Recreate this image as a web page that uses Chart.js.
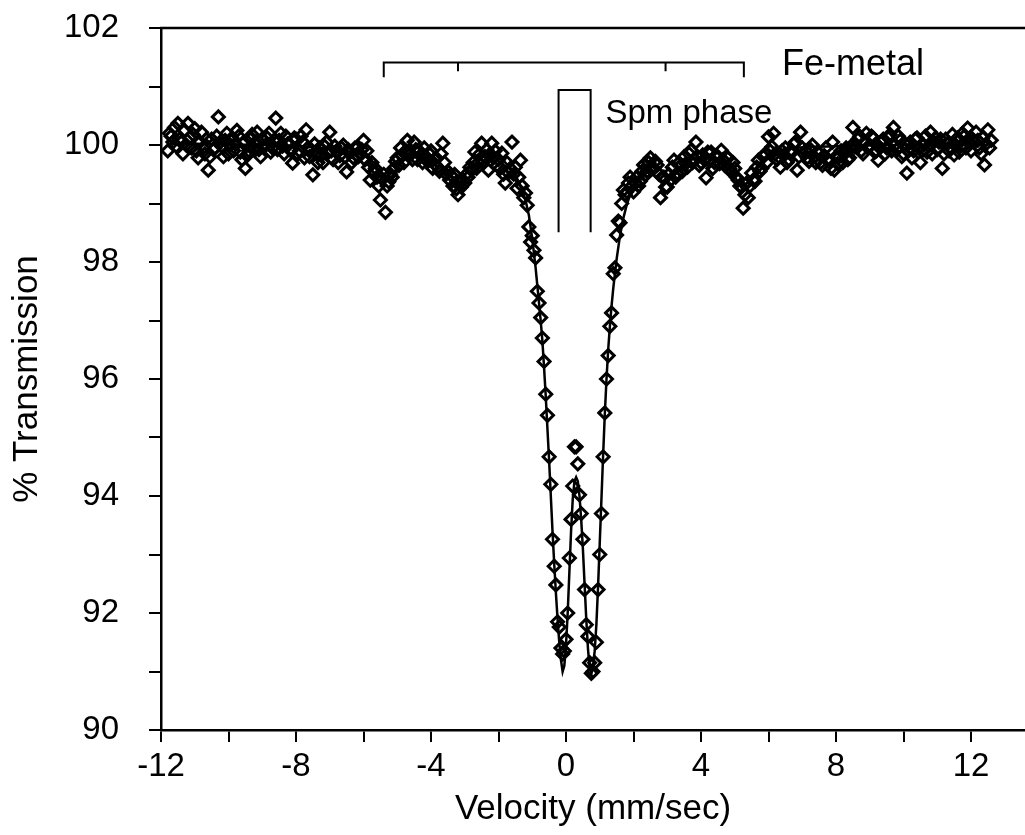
<!DOCTYPE html>
<html>
<head>
<meta charset="utf-8">
<script src="https://cdn.jsdelivr.net/npm/chart.js@4.4.1/dist/chart.umd.min.js"></script>
<style>
  html, body { margin: 0; padding: 0; background: #fff; }
  #wrap { width: 1025px; height: 835px; }
</style>
</head>
<body>
<div id="wrap"><canvas id="chart"></canvas></div>
<script>
// measured spectrum: outer left wing, central doublet, outer right wing
const leftVelocity = [
  -11.8, -11.75, -11.7, -11.65, -11.6, -11.55, -11.5, -11.45, -11.4, -11.35,
  -11.3, -11.25, -11.2, -11.15, -11.1, -11.05, -11.0, -10.95, -10.9, -10.85,
  -10.8, -10.75, -10.7, -10.65, -10.6, -10.55, -10.5, -10.45, -10.4, -10.35,
  -10.3, -10.25, -10.2, -10.15, -10.1, -10.05, -10.0, -9.95, -9.9, -9.85,
  -9.8, -9.75, -9.7, -9.65, -9.6, -9.55, -9.5, -9.45, -9.4, -9.35,
  -9.3, -9.25, -9.2, -9.15, -9.1, -9.05, -9.0, -8.95, -8.9, -8.85,
  -8.8, -8.75, -8.7, -8.65, -8.6, -8.55, -8.5, -8.45, -8.4, -8.35,
  -8.3, -8.25, -8.2, -8.15, -8.1, -8.05, -8.0, -7.95, -7.9, -7.85,
  -7.8, -7.75, -7.7, -7.65, -7.6, -7.55, -7.5, -7.45, -7.4, -7.35,
  -7.3, -7.25, -7.2, -7.15, -7.1, -7.05, -7.0, -6.95, -6.9, -6.85,
  -6.8, -6.75, -6.7, -6.65, -6.6, -6.55, -6.5, -6.45, -6.4, -6.35,
  -6.3, -6.25, -6.2, -6.15, -6.1, -6.05, -6.0, -5.95, -5.9, -5.85,
  -5.8, -5.75, -5.7, -5.65, -5.6, -5.55, -5.5, -5.45, -5.4, -5.35,
  -5.3, -5.25, -5.2, -5.15, -5.1, -5.05, -5.0, -4.95, -4.9, -4.85,
  -4.8, -4.75, -4.7, -4.65, -4.6, -4.55, -4.5, -4.45, -4.4, -4.35,
  -4.3, -4.25, -4.2, -4.15, -4.1, -4.05, -4.0, -3.95, -3.9, -3.85,
  -3.8, -3.75, -3.7, -3.65, -3.6, -3.55, -3.5, -3.45, -3.4, -3.35,
  -3.3, -3.25, -3.2, -3.15, -3.1, -3.05, -3.0, -2.95, -2.9, -2.85,
  -2.8, -2.75, -2.7, -2.65, -2.6, -2.55, -2.5, -2.45, -2.4, -2.35,
  -2.3, -2.25, -2.2, -2.15, -2.1, -2.05, -2.0, -1.95, -1.9, -1.85,
  -1.8, -1.75, -1.7, -1.65, -1.6
];
const leftTransmission = [
  99.9, 100.2, 100.15, 100.05, 100.3, 99.98, 100.37, 100.1, 100.05, 99.85,
  100.25, 100.0, 100.37, 100.12, 99.95, 100.18, 100.28, 99.9, 99.78, 100.05,
  100.22, 99.95, 99.85, 100.1, 99.57, 99.8, 100.1, 99.92, 99.95, 100.15,
  100.48, 100.05, 99.98, 99.8, 100.08, 100.2, 99.85, 100.0, 100.12, 99.9,
  100.02, 100.25, 100.15, 99.88, 99.75, 100.05, 99.6, 99.82, 99.9, 100.1,
  100.18, 99.95, 100.05, 100.22, 99.92, 99.8, 100.1, 99.97, 100.0, 100.12,
  100.2, 99.88, 99.95, 100.08, 100.46, 99.92, 100.08, 100.2, 99.98, 99.85,
  100.15, 100.02, 100.02, 99.9, 99.69, 100.12, 100.1, 99.85, 99.9, 100.15,
  100.05, 99.78, 100.26, 99.95, 99.8, 99.92, 99.49, 100.02, 99.85, 99.7,
  99.95, 99.82, 99.7, 99.98, 100.05, 99.88, 100.22, 99.9, 99.75, 99.98,
  99.9, 99.7, 99.82, 99.95, 100.0, 99.8, 99.54, 99.92, 99.88, 99.7,
  99.78, 99.95, 99.95, 99.8, 99.85, 99.92, 100.08, 99.75, 99.9, 99.62,
  99.4, 99.7, 99.54, 99.6, 99.45, 99.3, 99.06, 99.42, 99.5, 98.85,
  99.3, 99.37, 99.5, 99.45, 99.6, 99.72, 99.78, 99.65, 99.95, 99.82,
  99.7, 99.9, 100.08, 99.88, 99.85, 99.75, 100.05, 99.92, 99.75, 99.9,
  99.83, 99.7, 99.95, 99.8, 99.72, 99.85, 99.9, 99.6, 99.68, 99.78,
  99.62, 99.55, 99.85, 100.03, 99.7, 99.5, 99.55, 99.4, 99.48, 99.3,
  99.5, 99.25, 99.15, 99.35, 99.28, 99.4, 99.35, 99.5, 99.45, 99.62,
  99.57, 99.7, 99.88, 99.6, 99.7, 99.85, 100.03, 99.72, 99.8, 99.92,
  99.57, 99.85, 100.03, 99.78, 99.9, 99.65, 99.75, 99.6, 99.86, 99.5,
  99.35, 99.7, 99.52, 99.6, 100.05
];

const dipVelocity = [
  -1.55, -1.5, -1.45, -1.4, -1.35, -1.3, -1.25, -1.2, -1.15, -1.1,
  -1.05, -1.0, -0.95, -0.9, -0.85, -0.8, -0.75, -0.7, -0.65, -0.6,
  -0.55, -0.5, -0.45, -0.4, -0.35, -0.3, -0.25, -0.2, -0.15, -0.1,
  -0.05, 0, 0.05, 0.1, 0.15, 0.2, 0.25, 0.3, 0.35, 0.4,
  0.45, 0.5, 0.55, 0.6, 0.65, 0.7, 0.75, 0.8, 0.85, 0.9,
  0.95, 1.0, 1.05, 1.1, 1.15, 1.2, 1.25, 1.3, 1.35, 1.4,
  1.45, 1.5, 1.55, 1.6, 1.65, 1.7, 1.75, 1.8, 1.85, 1.9,
  1.95
];
const dipTransmission = [
  99.5, 99.62, 99.26, 99.45, 99.74, 99.3, 99.1, 99.18, 98.97, 98.6,
  98.34, 98.45, 98.2, 98.07, 97.5, 97.3, 97.05, 96.7, 96.3, 95.74,
  95.38, 94.67, 94.2, 93.26, 92.8, 92.48, 91.85, 91.76, 91.4, 91.3,
  91.35, 91.55, 92.0, 92.94, 93.6, 94.17, 94.84, 94.84, 94.55, 94.02,
  93.7, 93.26, 92.4, 91.8, 91.6, 91.15, 90.97, 91.0, 91.15, 91.5,
  92.4, 93.0, 93.7, 94.67, 95.42, 96.0, 96.4, 96.9, 97.13, 97.8,
  97.9, 98.46, 98.7, 98.67, 99.0, 99.23, 99.15, 99.2, 99.35, 99.45,
  99.3
];

const rightVelocity = [
  2.0, 2.05, 2.1, 2.15, 2.2, 2.25, 2.3, 2.35, 2.4, 2.45,
  2.5, 2.55, 2.6, 2.65, 2.7, 2.75, 2.8, 2.85, 2.9, 2.95,
  3.0, 3.05, 3.1, 3.15, 3.2, 3.25, 3.3, 3.35, 3.4, 3.45,
  3.5, 3.55, 3.6, 3.65, 3.7, 3.75, 3.8, 3.85, 3.9, 3.95,
  4.0, 4.05, 4.1, 4.15, 4.2, 4.25, 4.3, 4.35, 4.4, 4.45,
  4.5, 4.55, 4.6, 4.65, 4.7, 4.75, 4.8, 4.85, 4.9, 4.95,
  5.0, 5.05, 5.1, 5.15, 5.2, 5.25, 5.3, 5.35, 5.4, 5.45,
  5.5, 5.55, 5.6, 5.65, 5.7, 5.75, 5.8, 5.85, 5.9, 5.95,
  6.0, 6.05, 6.1, 6.15, 6.2, 6.25, 6.3, 6.35, 6.4, 6.45,
  6.5, 6.55, 6.6, 6.65, 6.7, 6.75, 6.8, 6.85, 6.9, 6.95,
  7.0, 7.05, 7.1, 7.15, 7.2, 7.25, 7.3, 7.35, 7.4, 7.45,
  7.5, 7.55, 7.6, 7.65, 7.7, 7.75, 7.8, 7.85, 7.9, 7.95,
  8.0, 8.05, 8.1, 8.15, 8.2, 8.25, 8.3, 8.35, 8.4, 8.45,
  8.5, 8.55, 8.6, 8.65, 8.7, 8.75, 8.8, 8.85, 8.9, 8.95,
  9.0, 9.05, 9.1, 9.15, 9.2, 9.25, 9.3, 9.35, 9.4, 9.45,
  9.5, 9.55, 9.6, 9.65, 9.7, 9.75, 9.8, 9.85, 9.9, 9.95,
  10.0, 10.05, 10.1, 10.15, 10.2, 10.25, 10.3, 10.35, 10.4, 10.45,
  10.5, 10.55, 10.6, 10.65, 10.7, 10.75, 10.8, 10.85, 10.9, 10.95,
  11.0, 11.05, 11.1, 11.15, 11.2, 11.25, 11.3, 11.35, 11.4, 11.45,
  11.5, 11.55, 11.6, 11.65, 11.7, 11.75, 11.8, 11.85, 11.9, 11.95,
  12.0, 12.05, 12.1, 12.15, 12.2, 12.25, 12.3, 12.35, 12.4, 12.45,
  12.5, 12.55, 12.6
];
const rightTransmission = [
  99.2, 99.35, 99.45, 99.3, 99.38, 99.55, 99.66, 99.48, 99.55, 99.7,
  99.78, 99.6, 99.6, 99.72, 99.66, 99.5, 99.1, 99.45, 99.45, 99.28,
  99.28, 99.5, 99.4, 99.62, 99.74, 99.45, 99.52, 99.7, 99.65, 99.55,
  99.8, 99.68, 99.62, 99.85, 99.91, 99.7, 99.75, 100.05, 99.8, 99.65,
  99.7, 99.83, 99.75, 99.44, 99.88, 99.72, 99.88, 99.6, 99.7, 99.82,
  99.8, 99.68, 99.91, 99.75, 99.65, 99.8, 99.78, 99.6, 99.54, 99.7,
  99.6, 99.45, 99.4, 99.3, 99.28, 98.92, 99.15, 99.35, 99.1, 99.3,
  99.52, 99.4, 99.38, 99.62, 99.74, 99.55, 99.6, 99.8, 99.85, 99.7,
  100.14, 99.9, 99.97, 100.2, 99.85, 99.75, 99.8, 99.62, 99.9, 99.82,
  99.95, 99.7, 99.75, 99.9, 99.88, 100.02, 100.05, 99.57, 99.8, 100.22,
  99.95, 99.85, 99.9, 99.78, 99.72, 99.92, 100.0, 99.8, 99.7, 99.88,
  99.85, 99.7, 99.65, 99.82, 99.95, 99.75, 99.72, 99.6, 100.05, 99.57,
  99.8, 99.68, 99.8, 99.9, 99.7, 99.85, 99.95, 99.75, 99.78, 99.98,
  100.3, 99.97, 99.97, 100.1, 100.15, 99.9, 99.85, 100.05, 100.2, 99.95,
  100.0, 100.15, 100.12, 99.88, 99.9, 99.74, 99.95, 100.05, 100.1, 99.85,
  99.95, 100.12, 100.18, 99.9, 100.3, 100.0, 99.92, 100.15, 100.08, 99.8,
  99.85, 100.02, 99.52, 99.9, 100.05, 99.78, 99.9, 100.1, 100.12, 99.95,
  99.7, 99.9, 100.0, 100.15, 99.88, 99.98, 100.22, 99.85, 100.05, 100.12,
  99.92, 100.05, 100.1, 99.6, 99.85, 100.1, 100.02, 99.9, 99.95, 100.18,
  99.83, 100.0, 100.12, 99.88, 99.98, 100.2, 100.15, 99.95, 100.29, 100.05,
  99.9, 100.1, 100.05, 100.22, 100.08, 99.95, 99.85, 100.12, 99.66, 100.02,
  100.26, 99.95, 100.08
];

// fitted curve
const fitVelocity = [
  -11.8, -11, -10, -9, -8, -7.5, -7, -6.6, -6.2, -6,
  -5.8, -5.7, -5.6, -5.5, -5.4, -5.3, -5.2, -5.1, -5, -4.8,
  -4.6, -4.4, -4.2, -4, -3.8, -3.6, -3.4, -3.3, -3.2, -3.1,
  -3, -2.9, -2.8, -2.6, -2.4, -2.2, -2, -1.8, -1.6, -1.5,
  -1.4, -1.3, -1.2, -1.1, -1.05, -1, -0.95, -0.9, -0.85, -0.8,
  -0.75, -0.7, -0.65, -0.6, -0.55, -0.5, -0.45, -0.4, -0.35, -0.3,
  -0.25, -0.2, -0.15, -0.1, -0.05, 0, 0.05, 0.1, 0.15, 0.2,
  0.25, 0.3, 0.35, 0.4, 0.45, 0.5, 0.55, 0.6, 0.65, 0.7,
  0.75, 0.8, 0.85, 0.9, 0.95, 1, 1.05, 1.1, 1.15, 1.2,
  1.25, 1.3, 1.35, 1.4, 1.5, 1.6, 1.7, 1.8, 1.9, 2,
  2.2, 2.4, 2.6, 2.8, 2.9, 3, 3.1, 3.2, 3.3, 3.5,
  3.8, 4.2, 4.6, 4.8, 5, 5.1, 5.2, 5.3, 5.4, 5.5,
  5.6, 5.8, 6, 6.5, 7, 8, 9, 10, 11, 12.5
];
const fitTransmission = [
  100.02, 100.02, 100.01, 100, 99.98, 99.96, 99.94, 99.91, 99.86, 99.82,
  99.76, 99.7, 99.62, 99.52, 99.43, 99.38, 99.42, 99.52, 99.62, 99.77,
  99.84, 99.86, 99.84, 99.78, 99.7, 99.6, 99.47, 99.39, 99.33, 99.31,
  99.34, 99.41, 99.49, 99.64, 99.75, 99.8, 99.78, 99.7, 99.57, 99.48,
  99.37, 99.23, 99.06, 98.8, 98.6, 98.4, 98.15, 97.9, 97.6, 97.3,
  97.0, 96.65, 96.2, 95.7, 95.15, 94.6, 94.0, 93.4, 92.85, 92.35,
  91.9, 91.5, 91.2, 91.0, 91.1, 91.45, 92.0, 92.7, 93.4, 93.95,
  94.25, 94.32, 94.25, 94.0, 93.6, 93.1, 92.5, 91.9, 91.4, 91.05,
  90.95, 91.1, 91.35, 91.8, 92.45, 93.2, 93.95, 94.7, 95.4, 96.0,
  96.5, 96.9, 97.25, 97.55, 98.05, 98.45, 98.75, 98.98, 99.15, 99.28,
  99.47, 99.6, 99.64, 99.58, 99.52, 99.46, 99.43, 99.47, 99.55, 99.68,
  99.77, 99.79, 99.7, 99.6, 99.46, 99.36, 99.27, 99.24, 99.3, 99.43,
  99.56, 99.74, 99.84, 99.93, 99.96, 99.98, 99.99, 100, 100, 100
];

// annotation marks (in data units)
const feLines = [-5.4, -3.2, 2.95, 5.27];
const feBarLevel = 101.41, feEndLevel = 101.16, feMidLevel = 101.26;
const spmLines = [-0.22, 0.73];
const spmTop = 100.94, spmBottom = 98.51;

const FONT = "'Liberation Sans', Arial, Helvetica, sans-serif";

const velocity = leftVelocity.concat(dipVelocity, rightVelocity);
const transmission = leftTransmission.concat(dipTransmission, rightTransmission);
const points = velocity.map((v, i) => ({ x: v, y: transmission[i] }));
const fitPoints = fitVelocity.map((v, i) => ({ x: v, y: fitTransmission[i] }));

const markings = {
  id: 'markings',
  afterDraw(chart) {
    const { ctx, chartArea, scales: { x, y } } = chart;
    const px = v => x.getPixelForValue(v);
    const py = v => y.getPixelForValue(v);
    ctx.save();
    ctx.strokeStyle = '#000';
    ctx.lineWidth = 2.5;
    ctx.beginPath();
    ctx.moveTo(chartArea.left - 1, chartArea.top);
    ctx.lineTo(chartArea.right, chartArea.top);
    ctx.stroke();

    // Fe-metal sextet bracket
    ctx.lineWidth = 2;
    ctx.beginPath();
    ctx.moveTo(px(feLines[0]), py(feEndLevel));
    ctx.lineTo(px(feLines[0]), py(feBarLevel));
    ctx.lineTo(px(feLines[3]), py(feBarLevel));
    ctx.lineTo(px(feLines[3]), py(feEndLevel));
    ctx.moveTo(px(feLines[1]), py(feBarLevel));
    ctx.lineTo(px(feLines[1]), py(feMidLevel));
    ctx.moveTo(px(feLines[2]), py(feBarLevel));
    ctx.lineTo(px(feLines[2]), py(feMidLevel));
    ctx.stroke();

    // spm doublet bracket
    ctx.beginPath();
    ctx.moveTo(px(spmLines[0]), py(spmBottom));
    ctx.lineTo(px(spmLines[0]), py(spmTop));
    ctx.lineTo(px(spmLines[1]), py(spmTop));
    ctx.lineTo(px(spmLines[1]), py(spmBottom));
    ctx.stroke();

    ctx.fillStyle = '#000';
    ctx.textAlign = 'left';
    ctx.textBaseline = 'alphabetic';
    ctx.font = '36px ' + FONT;
    ctx.fillText('Fe-metal', px(6.4), py(101.2));
    ctx.font = '33px ' + FONT;
    ctx.fillText('Spm phase', px(1.17), py(100.38));
    ctx.restore();
  }
};

new Chart(document.getElementById('chart'), {
  type: 'scatter',
  data: {
    datasets: [
      {
        label: 'fit',
        data: fitPoints,
        showLine: true,
        borderColor: '#000',
        borderWidth: 2.5,
        pointRadius: 0,
        tension: 0
      },
      {
        label: 'measured',
        data: points,
        pointStyle: 'rectRot',
        pointRadius: 6,
        pointBorderWidth: 3,
        borderColor: '#000',
        backgroundColor: 'rgba(0,0,0,0)'
      }
    ]
  },
  options: {
    responsive: true,
    maintainAspectRatio: false,
    animation: false,
    layout: { autoPadding: false, padding: { top: 28, right: 0, bottom: 0, left: 0 } },
    plugins: { legend: { display: false }, tooltip: { enabled: false } },
    scales: {
      x: {
        type: 'linear',
        min: -12,
        max: 13.6,
        afterFit: s => { s.height = 105; s.paddingLeft = 0; s.paddingRight = 0; },
        border: { color: '#000', width: 2.5 },
        grid: { drawOnChartArea: false, color: '#000', lineWidth: 2, tickLength: 12 },
        ticks: {
          stepSize: 2,
          includeBounds: false,
          padding: 5,
          maxRotation: 0,
          autoSkip: false,
          color: '#000',
          font: { family: FONT, size: 33 },
          callback: v => (v % 4 === 0 ? String(v) : '')
        },
        title: {
          display: true,
          text: 'Velocity (mm/sec)',
          color: '#000',
          font: { family: FONT, size: 35 },
          padding: { top: 0, bottom: 5 }
        }
      },
      y: {
        min: 90,
        max: 102,
        afterFit: s => { s.width = 161; s.paddingTop = 0; s.paddingBottom = 0; },
        border: { color: '#000', width: 2.5 },
        grid: { drawOnChartArea: false, color: '#000', lineWidth: 2, tickLength: 12 },
        ticks: {
          stepSize: 1,
          padding: 30,
          autoSkip: false,
          color: '#000',
          font: { family: FONT, size: 33 },
          callback: v => (v % 2 === 0 ? String(v) : '')
        },
        title: {
          display: true,
          text: '% Transmission',
          color: '#000',
          font: { family: FONT, size: 35 },
          padding: { top: 6, bottom: 0 }
        }
      }
    }
  },
  plugins: [markings]
});
</script>
</body>
</html>
